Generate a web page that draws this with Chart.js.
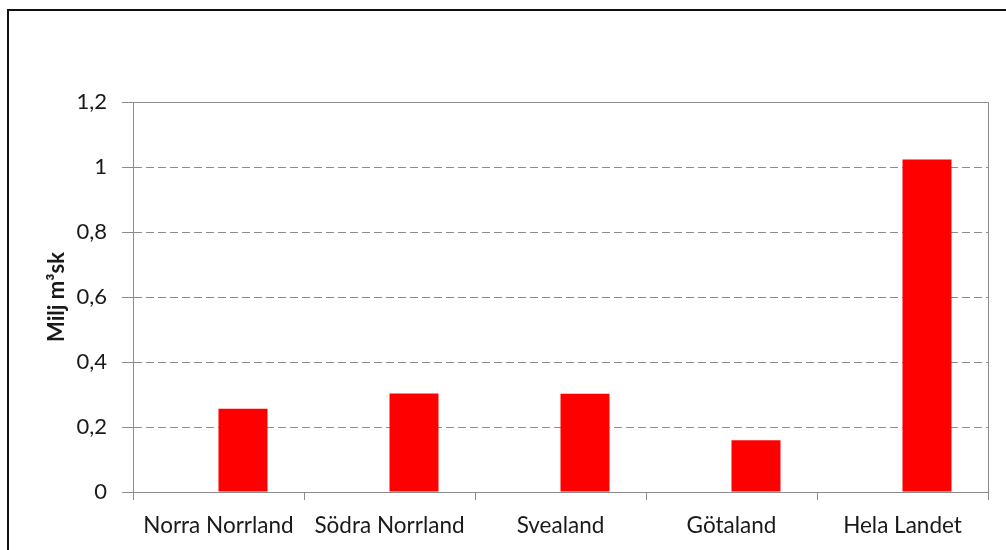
<!DOCTYPE html>
<html>
<head>
<meta charset="utf-8">
<script src="https://cdn.jsdelivr.net/npm/chart.js@4.4.0/dist/chart.umd.min.js"></script>
<style>
  body { margin: 0; background: #fff; }
  #wrap { position: relative; width: 1006px; height: 550px; overflow: hidden; }
  #frame { position: absolute; left: 7px; top: 9px; width: 1100px; height: 700px; border: 2px solid #111; }
  canvas { position: absolute; left: 0; top: 0; }
</style>
</head>
<body>
<div id="wrap">
  <div id="frame"></div>
  <canvas id="chart" width="1006" height="550"></canvas>
</div>
<script>
const regions = ['Norra Norrland', 'Södra Norrland', 'Svealand', 'Götaland', 'Hela Landet'];
const emptySeries = [null, null, null, null, null]; // the original has an empty first series
const volumes = [0.256, 0.303, 0.302, 0.159, 1.023];
const yTickLabels = ['0', '0,2', '0,4', '0,6', '0,8', '1', '1,2'];

const textColor = '#1a1a1a';
const axisGray = '#8c8c8c';

// box round the plot area (top and right edge)
const plotFrame = {
  id: 'plotFrame',
  afterDatasetsDraw(chart) {
    const { ctx, chartArea: a } = chart;
    ctx.save();
    ctx.strokeStyle = axisGray;
    ctx.lineWidth = 1;
    ctx.strokeRect(Math.round(a.left) + 0.5, Math.round(a.top) + 0.5,
      Math.round(a.right - a.left), Math.round(a.bottom - a.top));
    ctx.restore();
  }
};

const ctx = document.getElementById('chart').getContext('2d');

new Chart(ctx, {
  type: 'bar',
  data: {
    labels: regions,
    datasets: [
      {
        label: 'tom',
        data: emptySeries,
        backgroundColor: '#ff0000'
      },
      {
        label: 'Milj m³sk',
        data: volumes,
        backgroundColor: '#ff0000',
        borderWidth: 0
      }
    ]
  },
  options: {
    responsive: false,
    animation: false,
    categoryPercentage: 0.573,
    barPercentage: 1,
    layout: {
      padding: { top: 102, right: 18, left: 0, bottom: 0 }
    },
    plugins: {
      legend: { display: false },
      tooltip: { enabled: false }
    },
    scales: {
      x: {
        afterFit(scale) { scale.height = 58; },
        grid: {
          offset: true,
          drawOnChartArea: false,
          color: axisGray,
          tickLength: 8
        },
        border: { color: axisGray },
        ticks: {
          color: textColor,
          padding: 12,
          font: { family: 'Lato', size: 22.5 }
        }
      },
      y: {
        min: 0,
        max: 1.2,
        afterFit(scale) { scale.width = 133; },
        ticks: {
          stepSize: 0.2,
          color: textColor,
          padding: 15,
          font: { family: 'Lato', size: 22 },
          callback: (v, i) => yTickLabels[i]
        },
        grid: {
          color: axisGray,
          tickLength: 11,
          tickBorderDash: []
        },
        border: {
          color: axisGray,
          dash: [8, 4]
        },
        title: {
          display: true,
          text: 'Milj m³sk',
          color: textColor,
          padding: { top: 44, bottom: 0 },
          font: { family: 'Lato', size: 22, weight: 'bold' }
        }
      }
    }
  },
  plugins: [plotFrame]
});
</script>
</body>
</html>
